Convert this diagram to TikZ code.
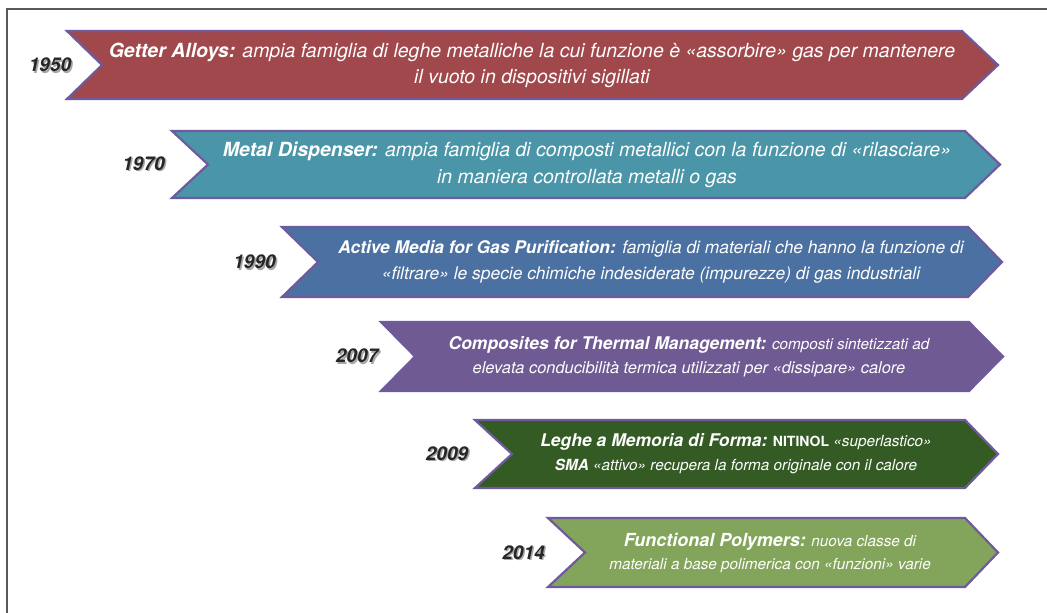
\documentclass[tikz,border=0pt]{standalone}
\usepackage{fontspec}
\setmainfont{TeX Gyre Heros}

\definecolor{bandline}{HTML}{6E5A9C}
\definecolor{getterred}{HTML}{A0484B}
\definecolor{dispteal}{HTML}{4A95A8}
\definecolor{mediablue}{HTML}{4B71A3}
\definecolor{thermviolet}{HTML}{6F5A93}
\definecolor{smagreen}{HTML}{345B24}
\definecolor{polygreen}{HTML}{83A55B}

\begin{document}
\begin{tikzpicture}[x=1pt,y=-1pt,
  band/.style={draw=bandline,line width=2.2pt,line join=miter},
  bandtext/.style={text=white,align=center,inner sep=0pt},
  year/.style={font=\fontsize{19}{19}\selectfont\bfseries\itshape,text=black!85},
  yearshade/.style={font=\fontsize{19}{19}\selectfont\bfseries\itshape,text=black!35}]

\useasboundingbox (0,0) rectangle (1047,613);
\draw[black!65,line width=1.5pt] (7,613) -- (7,9) -- (1047,9);

% bands, from the top down
\draw[band,fill=getterred] (67,31) -- (962,31) -- (998,65) -- (962,99) -- (67,99) -- (102,65) -- cycle;
\draw[band,fill=dispteal] (172,131) -- (965,131) -- (1000,164.5) -- (965,198) -- (172,198) -- (208,164.5) -- cycle;
\draw[band,fill=mediablue] (282,227) -- (968,227) -- (1002,262) -- (968,297) -- (282,297) -- (318,262) -- cycle;
\draw[band,fill=thermviolet] (381,322) -- (969,322) -- (1003,356.5) -- (969,391) -- (381,391) -- (415,356.5) -- cycle;
\draw[band,fill=smagreen] (475,420) -- (965,420) -- (998,454) -- (965,488) -- (475,488) -- (512,454) -- cycle;
\draw[band,fill=polygreen] (548,518) -- (965,518) -- (998,552.5) -- (965,587) -- (548,587) -- (585,552.5) -- cycle;

% years
\node[yearshade] (s1950) at (51.5,66.5) {1950};
\node[year] (y1950) at (50,65) {1950};
\node[yearshade] (s1970) at (145,165) {1970};
\node[year] (y1970) at (143.5,163.5) {1970};
\node[yearshade] (s1990) at (256,263.5) {1990};
\node[year] (y1990) at (254.5,262) {1990};
\node[yearshade] (s2007) at (358.5,357.5) {2007};
\node[year] (y2007) at (357,356) {2007};
\node[yearshade] (s2009) at (448.5,455) {2009};
\node[year] (y2009) at (447,453.5) {2009};
\node[yearshade] (s2014) at (525,554) {2014};
\node[year] (y2014) at (523.5,552.5) {2014};

% texts
\node[bandtext,font=\fontsize{19.5}{26}\selectfont\itshape] (getter) at (532,65)
  {{\bfseries Getter Alloys:} ampia famiglia di leghe metalliche la cui funzione è «assorbire» gas per mantenere\\
   il vuoto in dispositivi sigillati};
\node[bandtext,font=\fontsize{19.5}{27}\selectfont\itshape] (disp) at (587,164.5)
  {{\bfseries Metal Dispenser:} ampia famiglia di composti metallici con la funzione di «rilasciare»\\
   in maniera controllata metalli o gas};
\node[bandtext,font=\fontsize{17.4}{26}\selectfont\itshape] (media) at (651,262)
  {{\bfseries Active Media for Gas Purification:} famiglia di materiali che hanno la funzione di\\
   «filtrare» le specie chimiche indesiderate (impurezze) di gas industriali};
\node[bandtext,font=\fontsize{15.3}{24}\selectfont\itshape] (therm) at (689,356.5)
  {{\fontsize{17.5}{24}\selectfont\bfseries Composites for Thermal Management:} composti sintetizzati ad\\
   {\fontsize{16.4}{24}\selectfont elevata conducibilità termica utilizzati per «dissipare» calore}};
\node[bandtext,font=\fontsize{15.3}{24}\selectfont\itshape] (sma) at (736,454)
  {{\fontsize{17.5}{24}\selectfont\bfseries Leghe a Memoria di Forma:} {\fontsize{14}{24}\selectfont\bfseries\upshape NITINOL} «superlastico»\\
   {\bfseries SMA} «attivo» recupera la forma originale con il calore};
\node[bandtext,font=\fontsize{15.3}{23}\selectfont\itshape] (poly) at (770,552.5)
  {{\fontsize{18}{23}\selectfont\bfseries Functional Polymers:} nuova classe di\\
   materiali a base polimerica con «funzioni» varie};
\end{tikzpicture}
\end{document}
